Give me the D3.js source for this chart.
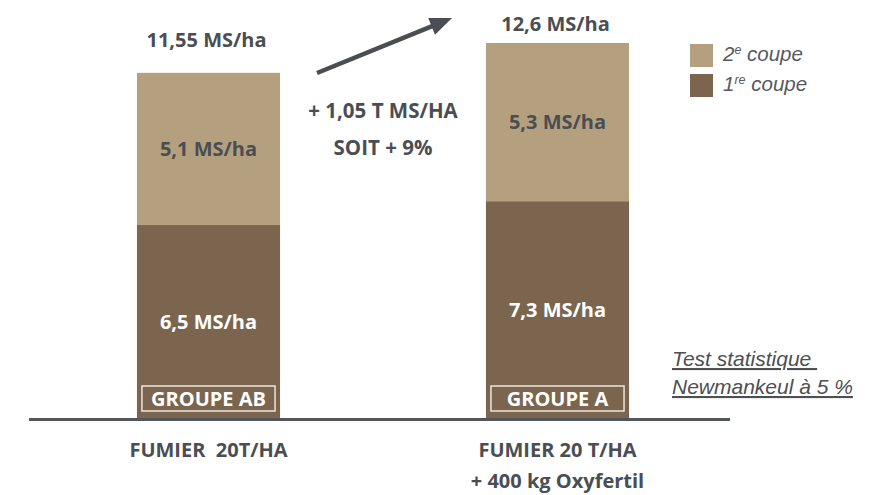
<!DOCTYPE html>
<html><head><meta charset="utf-8">
<script src="https://cdn.jsdelivr.net/npm/d3@7"></script>
<style>
html,body{margin:0;padding:0;background:#fff;}
svg{display:block;}
</style></head>
<body>
<svg id="chart" width="882" height="495"></svg>
<script>
// ---- data ----
const categories = ["FUMIER  20T/HA", "FUMIER 20 T/HA"];
const categorySubLabels = ["", "+ 400 kg Oxyfertil"];
const coupe1 = [6.5, 7.3];   // 1re coupe
const coupe2 = [5.1, 5.3];   // 2e coupe
const totals = [11.55, 12.6];
const groups = ["GROUPE AB", "GROUPE A"];
const gainLines = ["+ 1,05 T MS/HA", "SOIT + 9%"];
const unit = "MS/ha";

// ---- style ----
const colLight = "#b4a07f";
const colDark = "#7c654f";
const textCol = "#4a4e53";
const bold = "'Open Sans', sans-serif";
const italic = "'Liberation Sans', Arial, sans-serif";

const svg = d3.select("#chart");
const fmt = v => String(v).replace(".", ",");

const x = d3.scaleBand().domain(categories).range([34, 732])
  .paddingInner(0.59).paddingOuter(0.295);
const y = d3.scaleLinear().domain([0, 12.6]).range([419, 43]);
const bw = x.bandwidth();

const rows = categories.map((c, i) => ({c, i, v1: coupe1[i], v2: coupe2[i]}));

// stacked bars
const g = svg.append("g");
g.selectAll("rect.c1").data(rows).join("rect")
  .attr("x", d => x(d.c)).attr("width", bw)
  .attr("y", d => y(d.v1)).attr("height", d => y(0) - y(d.v1))
  .attr("fill", colDark);
g.selectAll("rect.c2").data(rows).join("rect")
  .attr("x", d => x(d.c)).attr("width", bw)
  .attr("y", d => y(d.v1 + d.v2)).attr("height", d => y(d.v1) - y(d.v1 + d.v2))
  .attr("fill", colLight);

// segment labels
g.selectAll("text.l2").data(rows).join("text")
  .attr("x", d => x(d.c) + bw / 2)
  .attr("y", d => (y(d.v1) + y(d.v1 + d.v2)) / 2 + 7)
  .attr("text-anchor", "middle").attr("font-family", bold).attr("font-weight", 700)
  .attr("font-size", 20).attr("fill", textCol)
  .text(d => fmt(d.v2) + " " + unit);
g.selectAll("text.l1").data(rows).join("text")
  .attr("x", d => x(d.c) + bw / 2)
  .attr("y", d => (y(0) + y(d.v1)) / 2 + 7)
  .attr("text-anchor", "middle").attr("font-family", bold).attr("font-weight", 700)
  .attr("font-size", 20).attr("fill", "#fff")
  .text(d => fmt(d.v1) + " " + unit);

// totals
const totalY = [47, 31];
g.selectAll("text.tot").data(rows).join("text")
  .attr("x", d => x(d.c) + bw / 2 - 2)
  .attr("y", d => totalY[d.i])
  .attr("text-anchor", "middle").attr("font-family", bold).attr("font-weight", 700)
  .attr("font-size", 20).attr("fill", textCol)
  .text(d => fmt(totals[d.i]) + " " + unit);

// group boxes
const gb = g.selectAll("g.grp").data(rows).join("g");
gb.append("rect")
  .attr("x", d => x(d.c) + 5).attr("width", bw - 10)
  .attr("y", 386).attr("height", 25)
  .attr("fill", "none").attr("stroke", "#ece5dc").attr("stroke-width", 1.5);
gb.append("text")
  .attr("x", d => x(d.c) + bw / 2).attr("y", 406)
  .attr("text-anchor", "middle").attr("font-family", bold).attr("font-weight", 700)
  .attr("font-size", 20).attr("fill", "#fff")
  .text(d => groups[d.i]);

// baseline
svg.append("line").attr("x1", 29).attr("x2", 730).attr("y1", y(0) + 0.5).attr("y2", y(0) + 0.5)
  .attr("stroke", "#53575b").attr("stroke-width", 3);

// category labels
svg.selectAll("text.cat").data(rows).join("text")
  .attr("x", d => x(d.c) + bw / 2).attr("y", 457)
  .attr("text-anchor", "middle").attr("font-family", bold).attr("font-weight", 700)
  .attr("font-size", 20).attr("fill", textCol)
  .style("white-space", "pre").attr("xml:space", "preserve")
  .text(d => d.c);
svg.selectAll("text.sub").data(rows).join("text")
  .attr("x", d => x(d.c) + bw / 2).attr("y", 488)
  .attr("text-anchor", "middle").attr("font-family", bold).attr("font-weight", 700)
  .attr("font-size", 20).attr("fill", textCol)
  .text(d => categorySubLabels[d.i]);

// arrow
const ax0 = 317, ay0 = 73, ax1 = 452, ay1 = 18;
const ang = Math.atan2(ay1 - ay0, ax1 - ax0);
const hl = 22, hw = 9;
const bx = ax1 - hl * Math.cos(ang), by = ay1 - hl * Math.sin(ang);
svg.append("line").attr("x1", ax0).attr("y1", ay0).attr("x2", bx + 2 * Math.cos(ang)).attr("y2", by + 2 * Math.sin(ang))
  .attr("stroke", "#4a4d51").attr("stroke-width", 4.5);
svg.append("path")
  .attr("d", d3.line()([
    [ax1, ay1],
    [bx + hw * Math.sin(ang), by - hw * Math.cos(ang)],
    [bx - hw * Math.sin(ang), by + hw * Math.cos(ang)]
  ]) + "Z")
  .attr("fill", "#4a4d51");

// gain text
svg.selectAll("text.gain").data(gainLines).join("text")
  .attr("x", 383).attr("y", (d, i) => 118 + i * 37)
  .attr("text-anchor", "middle").attr("font-family", bold).attr("font-weight", 700)
  .attr("font-size", 20.5).attr("fill", textCol)
  .text(d => d);

// legend
const legend = [
  {color: colLight, num: "2", sup: "e"},
  {color: colDark, num: "1", sup: "re"}
];
const lg = svg.selectAll("g.leg").data(legend).join("g")
  .attr("transform", (d, i) => `translate(690,${44 + i * 30})`);
lg.append("rect").attr("width", 23).attr("height", 23).attr("fill", d => d.color);
const lt = lg.append("text").attr("x", 33).attr("y", 17)
  .attr("font-family", italic).attr("font-style", "italic")
  .attr("font-size", 20.5).attr("fill", "#55595e");
lt.append("tspan").text(d => d.num);
lt.append("tspan").attr("font-size", 12.5).attr("dy", -7).text(d => d.sup);
lt.append("tspan").attr("dy", 7).text(" coupe");

// note
const note = ["Test statistique ", "Newmankeul à 5 %"];
svg.selectAll("text.note").data(note).join("text")
  .attr("x", 672).attr("y", (d, i) => 366 + i * 28)
  .attr("font-family", italic).attr("font-style", "italic")
  .attr("font-size", 21).attr("fill", "#4d4f52")
  .attr("text-decoration", "underline")
  .style("white-space", "pre")
  .text(d => d);
</script>
</body></html>
